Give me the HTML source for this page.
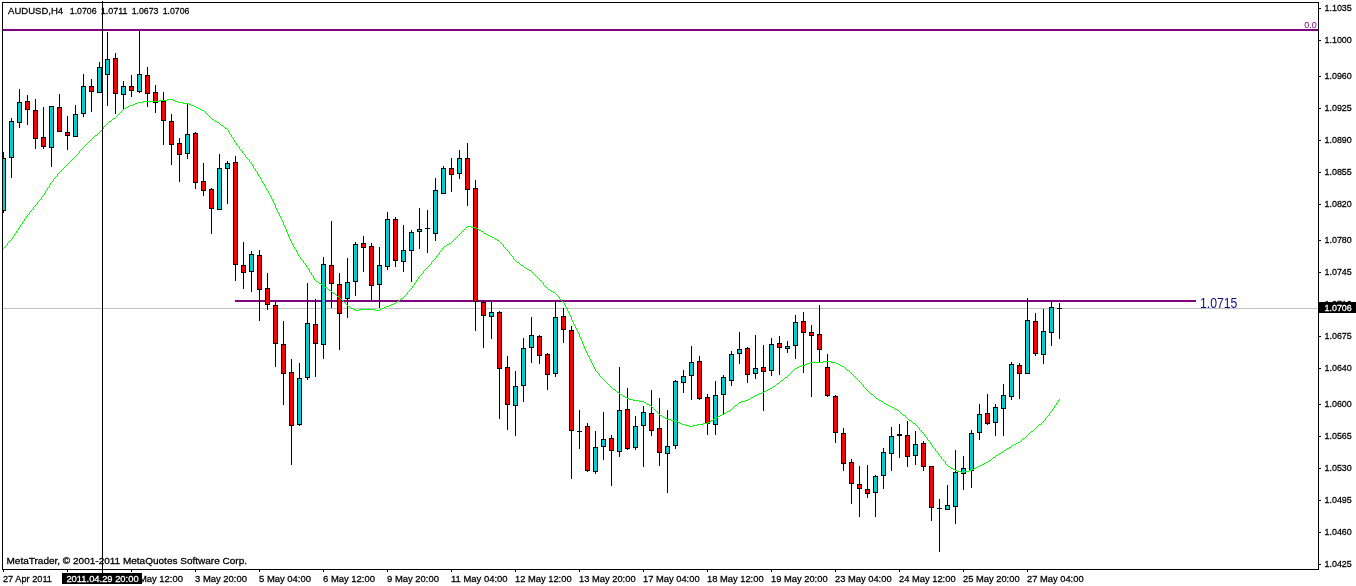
<!DOCTYPE html>
<html><head><meta charset="utf-8"><title>AUDUSD,H4</title>
<style>
html,body{margin:0;padding:0;background:#fff;}
body{width:1356px;height:586px;overflow:hidden;}
svg{display:block;}
.t{font-family:"Liberation Sans","DejaVu Sans",sans-serif;font-size:9.2px;fill:#000;stroke:#000;stroke-width:0.26px;}
.w{font-family:"Liberation Sans","DejaVu Sans",sans-serif;font-size:9.2px;fill:#fff;stroke:#fff;stroke-width:0.26px;}
</style></head><body>
<svg width="1356" height="586" viewBox="0 0 1356 586">
<defs><clipPath id="cp"><rect x="2" y="3" width="1316" height="566"/></clipPath></defs>
<rect x="0" y="0" width="1356" height="586" fill="#fff"/>
<g shape-rendering="crispEdges">
<!-- frame -->
<rect x="2" y="2" width="1317" height="1" fill="#000"/>
<rect x="2" y="2" width="1" height="568" fill="#000"/>
<rect x="2" y="569" width="1317" height="1" fill="#000"/>
<rect x="1318" y="2" width="1" height="568" fill="#000"/>
<!-- current price line -->
<rect x="3" y="308" width="1315" height="1" fill="#C0C0C0"/>
<!-- horizontal lines -->
<rect x="3" y="29" width="1315" height="2" fill="#800080"/>
<rect x="235" y="300" width="961" height="2" fill="#800080"/>
<!-- candles -->
<g clip-path="url(#cp)">
<rect x="3" y="152" width="1" height="61" fill="#000"/>
<rect x="1" y="158" width="5" height="53" fill="#000"/>
<rect x="2" y="159" width="3" height="51" fill="#00CED1"/>
<rect x="11" y="118" width="1" height="60" fill="#000"/>
<rect x="9" y="121" width="5" height="37" fill="#000"/>
<rect x="10" y="122" width="3" height="35" fill="#00CED1"/>
<rect x="19" y="89" width="1" height="39" fill="#000"/>
<rect x="17" y="102" width="5" height="21" fill="#000"/>
<rect x="18" y="103" width="3" height="19" fill="#00CED1"/>
<rect x="27" y="95" width="1" height="30" fill="#000"/>
<rect x="25" y="101" width="5" height="9" fill="#000"/>
<rect x="26" y="102" width="3" height="7" fill="#FF0000"/>
<rect x="35" y="99" width="1" height="50" fill="#000"/>
<rect x="33" y="110" width="5" height="29" fill="#000"/>
<rect x="34" y="111" width="3" height="27" fill="#FF0000"/>
<rect x="43" y="107" width="1" height="42" fill="#000"/>
<rect x="41" y="137" width="5" height="10" fill="#000"/>
<rect x="42" y="138" width="3" height="8" fill="#FF0000"/>
<rect x="51" y="106" width="1" height="61" fill="#000"/>
<rect x="49" y="106" width="5" height="42" fill="#000"/>
<rect x="50" y="107" width="3" height="40" fill="#00CED1"/>
<rect x="59" y="94" width="1" height="38" fill="#000"/>
<rect x="57" y="107" width="5" height="25" fill="#000"/>
<rect x="58" y="108" width="3" height="23" fill="#FF0000"/>
<rect x="67" y="116" width="1" height="34" fill="#000"/>
<rect x="65" y="132" width="5" height="4" fill="#000"/>
<rect x="66" y="133" width="3" height="2" fill="#FF0000"/>
<rect x="75" y="105" width="1" height="32" fill="#000"/>
<rect x="73" y="114" width="5" height="23" fill="#000"/>
<rect x="74" y="115" width="3" height="21" fill="#00CED1"/>
<rect x="83" y="74" width="1" height="43" fill="#000"/>
<rect x="81" y="86" width="5" height="28" fill="#000"/>
<rect x="82" y="87" width="3" height="26" fill="#00CED1"/>
<rect x="91" y="79" width="1" height="33" fill="#000"/>
<rect x="89" y="86" width="5" height="6" fill="#000"/>
<rect x="90" y="87" width="3" height="4" fill="#FF0000"/>
<rect x="99" y="62" width="1" height="31" fill="#000"/>
<rect x="97" y="67" width="5" height="26" fill="#000"/>
<rect x="98" y="68" width="3" height="24" fill="#00CED1"/>
<rect x="107" y="32" width="1" height="74" fill="#000"/>
<rect x="105" y="59" width="5" height="16" fill="#000"/>
<rect x="106" y="60" width="3" height="14" fill="#00CED1"/>
<rect x="115" y="53" width="1" height="61" fill="#000"/>
<rect x="113" y="58" width="5" height="36" fill="#000"/>
<rect x="114" y="59" width="3" height="34" fill="#FF0000"/>
<rect x="123" y="81" width="1" height="28" fill="#000"/>
<rect x="121" y="86" width="5" height="9" fill="#000"/>
<rect x="122" y="87" width="3" height="7" fill="#00CED1"/>
<rect x="131" y="75" width="1" height="22" fill="#000"/>
<rect x="129" y="86" width="5" height="5" fill="#000"/>
<rect x="130" y="87" width="3" height="3" fill="#FF0000"/>
<rect x="139" y="31" width="1" height="62" fill="#000"/>
<rect x="137" y="74" width="5" height="18" fill="#000"/>
<rect x="138" y="75" width="3" height="16" fill="#00CED1"/>
<rect x="147" y="67" width="1" height="40" fill="#000"/>
<rect x="145" y="75" width="5" height="19" fill="#000"/>
<rect x="146" y="76" width="3" height="17" fill="#FF0000"/>
<rect x="155" y="85" width="1" height="28" fill="#000"/>
<rect x="153" y="92" width="5" height="11" fill="#000"/>
<rect x="154" y="93" width="3" height="9" fill="#FF0000"/>
<rect x="163" y="92" width="1" height="53" fill="#000"/>
<rect x="161" y="101" width="5" height="20" fill="#000"/>
<rect x="162" y="102" width="3" height="18" fill="#FF0000"/>
<rect x="171" y="114" width="1" height="51" fill="#000"/>
<rect x="169" y="121" width="5" height="24" fill="#000"/>
<rect x="170" y="122" width="3" height="22" fill="#FF0000"/>
<rect x="179" y="138" width="1" height="44" fill="#000"/>
<rect x="177" y="143" width="5" height="12" fill="#000"/>
<rect x="178" y="144" width="3" height="10" fill="#FF0000"/>
<rect x="187" y="103" width="1" height="56" fill="#000"/>
<rect x="185" y="134" width="5" height="20" fill="#000"/>
<rect x="186" y="135" width="3" height="18" fill="#00CED1"/>
<rect x="195" y="132" width="1" height="57" fill="#000"/>
<rect x="193" y="133" width="5" height="50" fill="#000"/>
<rect x="194" y="134" width="3" height="48" fill="#FF0000"/>
<rect x="203" y="163" width="1" height="33" fill="#000"/>
<rect x="201" y="181" width="5" height="10" fill="#000"/>
<rect x="202" y="182" width="3" height="8" fill="#FF0000"/>
<rect x="211" y="188" width="1" height="46" fill="#000"/>
<rect x="209" y="189" width="5" height="20" fill="#000"/>
<rect x="210" y="190" width="3" height="18" fill="#FF0000"/>
<rect x="219" y="154" width="1" height="56" fill="#000"/>
<rect x="217" y="168" width="5" height="42" fill="#000"/>
<rect x="218" y="169" width="3" height="40" fill="#00CED1"/>
<rect x="227" y="161" width="1" height="43" fill="#000"/>
<rect x="225" y="163" width="5" height="6" fill="#000"/>
<rect x="226" y="164" width="3" height="4" fill="#00CED1"/>
<rect x="235" y="156" width="1" height="125" fill="#000"/>
<rect x="233" y="162" width="5" height="103" fill="#000"/>
<rect x="234" y="163" width="3" height="101" fill="#FF0000"/>
<rect x="243" y="242" width="1" height="47" fill="#000"/>
<rect x="241" y="265" width="5" height="8" fill="#000"/>
<rect x="242" y="266" width="3" height="6" fill="#FF0000"/>
<rect x="251" y="251" width="1" height="41" fill="#000"/>
<rect x="249" y="254" width="5" height="18" fill="#000"/>
<rect x="250" y="255" width="3" height="16" fill="#00CED1"/>
<rect x="259" y="250" width="1" height="71" fill="#000"/>
<rect x="257" y="255" width="5" height="35" fill="#000"/>
<rect x="258" y="256" width="3" height="33" fill="#FF0000"/>
<rect x="267" y="273" width="1" height="37" fill="#000"/>
<rect x="265" y="288" width="5" height="17" fill="#000"/>
<rect x="266" y="289" width="3" height="15" fill="#FF0000"/>
<rect x="275" y="301" width="1" height="66" fill="#000"/>
<rect x="273" y="305" width="5" height="39" fill="#000"/>
<rect x="274" y="306" width="3" height="37" fill="#FF0000"/>
<rect x="283" y="321" width="1" height="84" fill="#000"/>
<rect x="281" y="344" width="5" height="30" fill="#000"/>
<rect x="282" y="345" width="3" height="28" fill="#FF0000"/>
<rect x="291" y="359" width="1" height="106" fill="#000"/>
<rect x="289" y="372" width="5" height="54" fill="#000"/>
<rect x="290" y="373" width="3" height="52" fill="#FF0000"/>
<rect x="299" y="363" width="1" height="63" fill="#000"/>
<rect x="297" y="378" width="5" height="47" fill="#000"/>
<rect x="298" y="379" width="3" height="45" fill="#00CED1"/>
<rect x="307" y="283" width="1" height="97" fill="#000"/>
<rect x="305" y="323" width="5" height="55" fill="#000"/>
<rect x="306" y="324" width="3" height="53" fill="#00CED1"/>
<rect x="315" y="299" width="1" height="78" fill="#000"/>
<rect x="313" y="324" width="5" height="20" fill="#000"/>
<rect x="314" y="325" width="3" height="18" fill="#FF0000"/>
<rect x="323" y="257" width="1" height="102" fill="#000"/>
<rect x="321" y="264" width="5" height="81" fill="#000"/>
<rect x="322" y="265" width="3" height="79" fill="#00CED1"/>
<rect x="331" y="221" width="1" height="87" fill="#000"/>
<rect x="329" y="265" width="5" height="19" fill="#000"/>
<rect x="330" y="266" width="3" height="17" fill="#FF0000"/>
<rect x="339" y="273" width="1" height="77" fill="#000"/>
<rect x="337" y="284" width="5" height="30" fill="#000"/>
<rect x="338" y="285" width="3" height="28" fill="#FF0000"/>
<rect x="347" y="258" width="1" height="60" fill="#000"/>
<rect x="345" y="282" width="5" height="17" fill="#000"/>
<rect x="346" y="283" width="3" height="15" fill="#00CED1"/>
<rect x="355" y="242" width="1" height="54" fill="#000"/>
<rect x="353" y="244" width="5" height="38" fill="#000"/>
<rect x="354" y="245" width="3" height="36" fill="#00CED1"/>
<rect x="363" y="236" width="1" height="36" fill="#000"/>
<rect x="361" y="243" width="5" height="5" fill="#000"/>
<rect x="362" y="244" width="3" height="3" fill="#FF0000"/>
<rect x="371" y="243" width="1" height="58" fill="#000"/>
<rect x="369" y="246" width="5" height="40" fill="#000"/>
<rect x="370" y="247" width="3" height="38" fill="#FF0000"/>
<rect x="379" y="247" width="1" height="61" fill="#000"/>
<rect x="377" y="265" width="5" height="20" fill="#000"/>
<rect x="378" y="266" width="3" height="18" fill="#00CED1"/>
<rect x="387" y="212" width="1" height="58" fill="#000"/>
<rect x="385" y="219" width="5" height="48" fill="#000"/>
<rect x="386" y="220" width="3" height="46" fill="#00CED1"/>
<rect x="395" y="217" width="1" height="50" fill="#000"/>
<rect x="393" y="219" width="5" height="42" fill="#000"/>
<rect x="394" y="220" width="3" height="40" fill="#FF0000"/>
<rect x="403" y="225" width="1" height="47" fill="#000"/>
<rect x="401" y="250" width="5" height="12" fill="#000"/>
<rect x="402" y="251" width="3" height="10" fill="#00CED1"/>
<rect x="411" y="230" width="1" height="52" fill="#000"/>
<rect x="409" y="232" width="5" height="19" fill="#000"/>
<rect x="410" y="233" width="3" height="17" fill="#00CED1"/>
<rect x="419" y="208" width="1" height="41" fill="#000"/>
<rect x="417" y="229" width="5" height="3" fill="#000"/>
<rect x="418" y="230" width="3" height="1" fill="#00CED1"/>
<rect x="427" y="210" width="1" height="43" fill="#000"/>
<rect x="425" y="228" width="5" height="1" fill="#000"/>
<rect x="435" y="178" width="1" height="63" fill="#000"/>
<rect x="433" y="190" width="5" height="44" fill="#000"/>
<rect x="434" y="191" width="3" height="42" fill="#00CED1"/>
<rect x="443" y="166" width="1" height="28" fill="#000"/>
<rect x="441" y="168" width="5" height="26" fill="#000"/>
<rect x="442" y="169" width="3" height="24" fill="#00CED1"/>
<rect x="451" y="158" width="1" height="34" fill="#000"/>
<rect x="449" y="168" width="5" height="7" fill="#000"/>
<rect x="450" y="169" width="3" height="5" fill="#FF0000"/>
<rect x="459" y="150" width="1" height="29" fill="#000"/>
<rect x="457" y="158" width="5" height="16" fill="#000"/>
<rect x="458" y="159" width="3" height="14" fill="#00CED1"/>
<rect x="467" y="143" width="1" height="63" fill="#000"/>
<rect x="465" y="158" width="5" height="32" fill="#000"/>
<rect x="466" y="159" width="3" height="30" fill="#FF0000"/>
<rect x="475" y="180" width="1" height="151" fill="#000"/>
<rect x="473" y="188" width="5" height="114" fill="#000"/>
<rect x="474" y="189" width="3" height="112" fill="#FF0000"/>
<rect x="483" y="300" width="1" height="48" fill="#000"/>
<rect x="481" y="302" width="5" height="14" fill="#000"/>
<rect x="482" y="303" width="3" height="12" fill="#FF0000"/>
<rect x="491" y="302" width="1" height="37" fill="#000"/>
<rect x="489" y="312" width="5" height="5" fill="#000"/>
<rect x="490" y="313" width="3" height="3" fill="#00CED1"/>
<rect x="499" y="311" width="1" height="108" fill="#000"/>
<rect x="497" y="312" width="5" height="57" fill="#000"/>
<rect x="498" y="313" width="3" height="55" fill="#FF0000"/>
<rect x="507" y="356" width="1" height="74" fill="#000"/>
<rect x="505" y="367" width="5" height="38" fill="#000"/>
<rect x="506" y="368" width="3" height="36" fill="#FF0000"/>
<rect x="515" y="371" width="1" height="65" fill="#000"/>
<rect x="513" y="386" width="5" height="20" fill="#000"/>
<rect x="514" y="387" width="3" height="18" fill="#00CED1"/>
<rect x="523" y="338" width="1" height="64" fill="#000"/>
<rect x="521" y="348" width="5" height="38" fill="#000"/>
<rect x="522" y="349" width="3" height="36" fill="#00CED1"/>
<rect x="531" y="317" width="1" height="46" fill="#000"/>
<rect x="529" y="335" width="5" height="13" fill="#000"/>
<rect x="530" y="336" width="3" height="11" fill="#00CED1"/>
<rect x="539" y="335" width="1" height="29" fill="#000"/>
<rect x="537" y="336" width="5" height="20" fill="#000"/>
<rect x="538" y="337" width="3" height="18" fill="#FF0000"/>
<rect x="547" y="353" width="1" height="37" fill="#000"/>
<rect x="545" y="354" width="5" height="21" fill="#000"/>
<rect x="546" y="355" width="3" height="19" fill="#FF0000"/>
<rect x="555" y="300" width="1" height="77" fill="#000"/>
<rect x="553" y="317" width="5" height="57" fill="#000"/>
<rect x="554" y="318" width="3" height="55" fill="#00CED1"/>
<rect x="563" y="308" width="1" height="35" fill="#000"/>
<rect x="561" y="316" width="5" height="14" fill="#000"/>
<rect x="562" y="317" width="3" height="12" fill="#FF0000"/>
<rect x="571" y="326" width="1" height="153" fill="#000"/>
<rect x="569" y="330" width="5" height="101" fill="#000"/>
<rect x="570" y="331" width="3" height="99" fill="#FF0000"/>
<rect x="579" y="410" width="1" height="39" fill="#000"/>
<rect x="577" y="431" width="5" height="1" fill="#000"/>
<rect x="587" y="423" width="1" height="49" fill="#000"/>
<rect x="585" y="426" width="5" height="45" fill="#000"/>
<rect x="586" y="427" width="3" height="43" fill="#FF0000"/>
<rect x="595" y="431" width="1" height="43" fill="#000"/>
<rect x="593" y="447" width="5" height="25" fill="#000"/>
<rect x="594" y="448" width="3" height="23" fill="#00CED1"/>
<rect x="603" y="412" width="1" height="48" fill="#000"/>
<rect x="601" y="439" width="5" height="8" fill="#000"/>
<rect x="602" y="440" width="3" height="6" fill="#00CED1"/>
<rect x="611" y="435" width="1" height="51" fill="#000"/>
<rect x="609" y="438" width="5" height="13" fill="#000"/>
<rect x="610" y="439" width="3" height="11" fill="#FF0000"/>
<rect x="619" y="367" width="1" height="90" fill="#000"/>
<rect x="617" y="410" width="5" height="42" fill="#000"/>
<rect x="618" y="411" width="3" height="40" fill="#00CED1"/>
<rect x="627" y="388" width="1" height="62" fill="#000"/>
<rect x="625" y="409" width="5" height="40" fill="#000"/>
<rect x="626" y="410" width="3" height="38" fill="#FF0000"/>
<rect x="635" y="416" width="1" height="34" fill="#000"/>
<rect x="633" y="426" width="5" height="22" fill="#000"/>
<rect x="634" y="427" width="3" height="20" fill="#00CED1"/>
<rect x="643" y="406" width="1" height="61" fill="#000"/>
<rect x="641" y="412" width="5" height="14" fill="#000"/>
<rect x="642" y="413" width="3" height="12" fill="#00CED1"/>
<rect x="651" y="390" width="1" height="46" fill="#000"/>
<rect x="649" y="413" width="5" height="18" fill="#000"/>
<rect x="650" y="414" width="3" height="16" fill="#FF0000"/>
<rect x="659" y="398" width="1" height="68" fill="#000"/>
<rect x="657" y="428" width="5" height="25" fill="#000"/>
<rect x="658" y="429" width="3" height="23" fill="#FF0000"/>
<rect x="667" y="410" width="1" height="83" fill="#000"/>
<rect x="665" y="446" width="5" height="8" fill="#000"/>
<rect x="666" y="447" width="3" height="6" fill="#00CED1"/>
<rect x="675" y="380" width="1" height="69" fill="#000"/>
<rect x="673" y="381" width="5" height="65" fill="#000"/>
<rect x="674" y="382" width="3" height="63" fill="#00CED1"/>
<rect x="683" y="370" width="1" height="23" fill="#000"/>
<rect x="681" y="376" width="5" height="7" fill="#000"/>
<rect x="682" y="377" width="3" height="5" fill="#00CED1"/>
<rect x="691" y="346" width="1" height="54" fill="#000"/>
<rect x="689" y="362" width="5" height="14" fill="#000"/>
<rect x="690" y="363" width="3" height="12" fill="#00CED1"/>
<rect x="699" y="356" width="1" height="44" fill="#000"/>
<rect x="697" y="361" width="5" height="38" fill="#000"/>
<rect x="698" y="362" width="3" height="36" fill="#FF0000"/>
<rect x="707" y="394" width="1" height="41" fill="#000"/>
<rect x="705" y="397" width="5" height="27" fill="#000"/>
<rect x="706" y="398" width="3" height="25" fill="#FF0000"/>
<rect x="715" y="381" width="1" height="54" fill="#000"/>
<rect x="713" y="395" width="5" height="30" fill="#000"/>
<rect x="714" y="396" width="3" height="28" fill="#00CED1"/>
<rect x="723" y="375" width="1" height="39" fill="#000"/>
<rect x="721" y="377" width="5" height="18" fill="#000"/>
<rect x="722" y="378" width="3" height="16" fill="#00CED1"/>
<rect x="731" y="351" width="1" height="35" fill="#000"/>
<rect x="729" y="354" width="5" height="27" fill="#000"/>
<rect x="730" y="355" width="3" height="25" fill="#00CED1"/>
<rect x="739" y="332" width="1" height="32" fill="#000"/>
<rect x="737" y="349" width="5" height="5" fill="#000"/>
<rect x="738" y="350" width="3" height="3" fill="#00CED1"/>
<rect x="747" y="347" width="1" height="36" fill="#000"/>
<rect x="745" y="348" width="5" height="27" fill="#000"/>
<rect x="746" y="349" width="3" height="25" fill="#FF0000"/>
<rect x="755" y="335" width="1" height="44" fill="#000"/>
<rect x="753" y="368" width="5" height="6" fill="#000"/>
<rect x="754" y="369" width="3" height="4" fill="#00CED1"/>
<rect x="763" y="345" width="1" height="66" fill="#000"/>
<rect x="761" y="367" width="5" height="5" fill="#000"/>
<rect x="762" y="368" width="3" height="3" fill="#FF0000"/>
<rect x="771" y="338" width="1" height="38" fill="#000"/>
<rect x="769" y="344" width="5" height="27" fill="#000"/>
<rect x="770" y="345" width="3" height="25" fill="#00CED1"/>
<rect x="779" y="336" width="1" height="39" fill="#000"/>
<rect x="777" y="343" width="5" height="5" fill="#000"/>
<rect x="778" y="344" width="3" height="3" fill="#FF0000"/>
<rect x="787" y="341" width="1" height="12" fill="#000"/>
<rect x="785" y="346" width="5" height="3" fill="#000"/>
<rect x="786" y="347" width="3" height="1" fill="#00CED1"/>
<rect x="795" y="315" width="1" height="44" fill="#000"/>
<rect x="793" y="322" width="5" height="24" fill="#000"/>
<rect x="794" y="323" width="3" height="22" fill="#00CED1"/>
<rect x="803" y="312" width="1" height="61" fill="#000"/>
<rect x="801" y="321" width="5" height="12" fill="#000"/>
<rect x="802" y="322" width="3" height="10" fill="#FF0000"/>
<rect x="811" y="325" width="1" height="72" fill="#000"/>
<rect x="809" y="332" width="5" height="4" fill="#000"/>
<rect x="810" y="333" width="3" height="2" fill="#FF0000"/>
<rect x="819" y="305" width="1" height="57" fill="#000"/>
<rect x="817" y="334" width="5" height="16" fill="#000"/>
<rect x="818" y="335" width="3" height="14" fill="#FF0000"/>
<rect x="827" y="354" width="1" height="43" fill="#000"/>
<rect x="825" y="367" width="5" height="29" fill="#000"/>
<rect x="826" y="368" width="3" height="27" fill="#FF0000"/>
<rect x="835" y="395" width="1" height="48" fill="#000"/>
<rect x="833" y="396" width="5" height="37" fill="#000"/>
<rect x="834" y="397" width="3" height="35" fill="#FF0000"/>
<rect x="843" y="428" width="1" height="43" fill="#000"/>
<rect x="841" y="433" width="5" height="31" fill="#000"/>
<rect x="842" y="434" width="3" height="29" fill="#FF0000"/>
<rect x="851" y="459" width="1" height="45" fill="#000"/>
<rect x="849" y="462" width="5" height="22" fill="#000"/>
<rect x="850" y="463" width="3" height="20" fill="#FF0000"/>
<rect x="859" y="466" width="1" height="51" fill="#000"/>
<rect x="857" y="484" width="5" height="5" fill="#000"/>
<rect x="858" y="485" width="3" height="3" fill="#FF0000"/>
<rect x="867" y="465" width="1" height="33" fill="#000"/>
<rect x="865" y="489" width="5" height="5" fill="#000"/>
<rect x="866" y="490" width="3" height="3" fill="#FF0000"/>
<rect x="875" y="475" width="1" height="42" fill="#000"/>
<rect x="873" y="476" width="5" height="17" fill="#000"/>
<rect x="874" y="477" width="3" height="15" fill="#00CED1"/>
<rect x="883" y="448" width="1" height="41" fill="#000"/>
<rect x="881" y="452" width="5" height="24" fill="#000"/>
<rect x="882" y="453" width="3" height="22" fill="#00CED1"/>
<rect x="891" y="427" width="1" height="44" fill="#000"/>
<rect x="889" y="436" width="5" height="18" fill="#000"/>
<rect x="890" y="437" width="3" height="16" fill="#00CED1"/>
<rect x="899" y="424" width="1" height="34" fill="#000"/>
<rect x="897" y="434" width="5" height="2" fill="#000"/>
<rect x="907" y="421" width="1" height="46" fill="#000"/>
<rect x="905" y="435" width="5" height="22" fill="#000"/>
<rect x="906" y="436" width="3" height="20" fill="#FF0000"/>
<rect x="915" y="431" width="1" height="34" fill="#000"/>
<rect x="913" y="444" width="5" height="12" fill="#000"/>
<rect x="914" y="445" width="3" height="10" fill="#00CED1"/>
<rect x="923" y="441" width="1" height="30" fill="#000"/>
<rect x="921" y="443" width="5" height="24" fill="#000"/>
<rect x="922" y="444" width="3" height="22" fill="#FF0000"/>
<rect x="931" y="466" width="1" height="55" fill="#000"/>
<rect x="929" y="466" width="5" height="42" fill="#000"/>
<rect x="930" y="467" width="3" height="40" fill="#FF0000"/>
<rect x="939" y="499" width="1" height="53" fill="#000"/>
<rect x="937" y="508" width="5" height="1" fill="#000"/>
<rect x="947" y="485" width="1" height="25" fill="#000"/>
<rect x="945" y="505" width="5" height="5" fill="#000"/>
<rect x="946" y="506" width="3" height="3" fill="#00CED1"/>
<rect x="955" y="450" width="1" height="74" fill="#000"/>
<rect x="953" y="472" width="5" height="35" fill="#000"/>
<rect x="954" y="473" width="3" height="33" fill="#00CED1"/>
<rect x="963" y="456" width="1" height="34" fill="#000"/>
<rect x="961" y="468" width="5" height="6" fill="#000"/>
<rect x="962" y="469" width="3" height="4" fill="#00CED1"/>
<rect x="971" y="430" width="1" height="58" fill="#000"/>
<rect x="969" y="433" width="5" height="38" fill="#000"/>
<rect x="970" y="434" width="3" height="36" fill="#00CED1"/>
<rect x="979" y="404" width="1" height="36" fill="#000"/>
<rect x="977" y="414" width="5" height="19" fill="#000"/>
<rect x="978" y="415" width="3" height="17" fill="#00CED1"/>
<rect x="987" y="394" width="1" height="31" fill="#000"/>
<rect x="985" y="413" width="5" height="11" fill="#000"/>
<rect x="986" y="414" width="3" height="9" fill="#FF0000"/>
<rect x="995" y="404" width="1" height="32" fill="#000"/>
<rect x="993" y="407" width="5" height="16" fill="#000"/>
<rect x="994" y="408" width="3" height="14" fill="#00CED1"/>
<rect x="1003" y="384" width="1" height="52" fill="#000"/>
<rect x="1001" y="395" width="5" height="14" fill="#000"/>
<rect x="1002" y="396" width="3" height="12" fill="#00CED1"/>
<rect x="1011" y="362" width="1" height="38" fill="#000"/>
<rect x="1009" y="364" width="5" height="33" fill="#000"/>
<rect x="1010" y="365" width="3" height="31" fill="#00CED1"/>
<rect x="1019" y="363" width="1" height="36" fill="#000"/>
<rect x="1017" y="365" width="5" height="9" fill="#000"/>
<rect x="1018" y="366" width="3" height="7" fill="#FF0000"/>
<rect x="1027" y="298" width="1" height="76" fill="#000"/>
<rect x="1025" y="320" width="5" height="54" fill="#000"/>
<rect x="1026" y="321" width="3" height="52" fill="#00CED1"/>
<rect x="1035" y="313" width="1" height="43" fill="#000"/>
<rect x="1033" y="321" width="5" height="33" fill="#000"/>
<rect x="1034" y="322" width="3" height="31" fill="#FF0000"/>
<rect x="1043" y="309" width="1" height="55" fill="#000"/>
<rect x="1041" y="331" width="5" height="24" fill="#000"/>
<rect x="1042" y="332" width="3" height="22" fill="#00CED1"/>
<rect x="1051" y="300" width="1" height="46" fill="#000"/>
<rect x="1049" y="307" width="5" height="26" fill="#000"/>
<rect x="1050" y="308" width="3" height="24" fill="#00CED1"/>
<rect x="1059" y="303" width="1" height="36" fill="#000"/>
<rect x="1057" y="308" width="5" height="1" fill="#000"/>
</g>
<rect x="2" y="2" width="1" height="568" fill="#000"/>
<!-- MA -->
<path d="M167 99h6v1h-6zM159 100h8v1h-8zM173 100h2v1h-2zM143 101h16v1h-16zM175 101h3v1h-3zM138 102h5v1h-5zM178 102h5v1h-5zM135 103h3v1h-3zM183 103h6v1h-6zM133 104h2v1h-2zM189 104h2v1h-2zM130 105h3v1h-3zM191 105h3v1h-3zM128 106h2v1h-2zM194 106h2v1h-2zM126 107h2v1h-2zM196 107h2v1h-2zM124 108h2v1h-2zM198 108h2v1h-2zM123 109h1v1h-1zM200 109h2v1h-2zM122 110h1v1h-1zM202 110h2v1h-2zM121 111h1v1h-1zM204 111h1v1h-1zM120 112h1v1h-1zM205 112h1v1h-1zM119 113h1v1h-1zM206 113h1v1h-1zM118 114h1v1h-1zM207 114h1v1h-1zM117 115h1v1h-1zM208 115h1v1h-1zM116 116h1v1h-1zM209 116h1v1h-1zM115 117h1v1h-1zM210 117h1v1h-1zM113 118h2v1h-2zM211 118h1v1h-1zM112 119h1v1h-1zM212 119h2v1h-2zM111 120h1v1h-1zM214 120h1v1h-1zM109 121h2v1h-2zM215 121h2v1h-2zM108 122h1v1h-1zM217 122h2v1h-2zM107 123h1v1h-1zM219 123h1v1h-1zM106 124h1v1h-1zM220 124h1v1h-1zM105 125h1v1h-1zM221 125h2v1h-2zM104 126h1v1h-1zM223 126h1v1h-1zM224 127h1v1h-1zM103 127h1v2h-1zM225 128h2v1h-2zM102 129h1v1h-1zM227 129h1v1h-1zM101 130h1v1h-1zM228 130h1v2h-1zM100 131h1v1h-1zM99 132h1v1h-1zM229 132h1v2h-1zM98 133h1v1h-1zM97 134h1v1h-1zM230 134h1v1h-1zM95 135h2v1h-2zM231 135h1v2h-1zM94 136h1v1h-1zM93 137h1v1h-1zM232 137h1v1h-1zM92 138h1v1h-1zM233 138h1v2h-1zM91 139h1v1h-1zM90 140h1v1h-1zM234 140h1v2h-1zM89 141h1v1h-1zM88 142h1v1h-1zM235 142h1v1h-1zM87 143h1v1h-1zM236 143h1v2h-1zM86 144h1v1h-1zM85 145h1v1h-1zM237 145h1v1h-1zM84 146h1v1h-1zM238 146h1v1h-1zM83 147h1v1h-1zM239 147h1v2h-1zM82 148h1v1h-1zM81 149h1v1h-1zM240 149h1v1h-1zM80 150h1v1h-1zM241 150h1v1h-1zM79 151h1v2h-1zM242 151h1v2h-1zM78 153h1v1h-1zM243 153h1v1h-1zM77 154h1v1h-1zM244 154h1v1h-1zM76 155h1v1h-1zM245 155h1v2h-1zM75 156h1v1h-1zM74 157h1v1h-1zM246 157h1v1h-1zM73 158h1v1h-1zM247 158h1v1h-1zM72 159h1v1h-1zM248 159h1v1h-1zM71 160h1v1h-1zM249 160h1v2h-1zM70 161h1v1h-1zM69 162h1v1h-1zM250 162h1v1h-1zM68 163h1v1h-1zM251 163h1v1h-1zM67 164h1v1h-1zM252 164h1v2h-1zM66 165h1v1h-1zM65 166h1v1h-1zM253 166h1v2h-1zM64 167h1v1h-1zM63 168h1v1h-1zM254 168h1v1h-1zM62 169h1v1h-1zM255 169h1v2h-1zM61 170h1v1h-1zM60 171h1v1h-1zM256 171h1v1h-1zM59 172h1v1h-1zM257 172h1v2h-1zM58 173h1v1h-1zM57 174h1v2h-1zM258 174h1v2h-1zM56 176h1v1h-1zM259 176h1v1h-1zM55 177h1v1h-1zM260 177h1v2h-1zM54 178h1v1h-1zM53 179h1v2h-1zM261 179h1v2h-1zM52 181h1v1h-1zM262 181h1v2h-1zM51 182h1v1h-1zM263 183h1v1h-1zM50 183h1v2h-1zM264 184h1v2h-1zM49 185h1v2h-1zM265 186h1v2h-1zM48 187h1v1h-1zM47 188h1v2h-1zM266 188h1v2h-1zM46 190h1v1h-1zM267 190h1v1h-1zM45 191h1v2h-1zM268 191h1v2h-1zM44 193h1v2h-1zM269 193h1v2h-1zM43 195h1v1h-1zM270 195h1v2h-1zM42 196h1v1h-1zM41 197h1v2h-1zM271 197h1v2h-1zM40 199h1v1h-1zM272 199h1v2h-1zM39 200h1v1h-1zM38 201h1v1h-1zM273 201h1v2h-1zM37 202h1v2h-1zM274 203h1v2h-1zM36 204h1v1h-1zM35 205h1v1h-1zM275 205h1v3h-1zM34 206h1v1h-1zM33 207h1v2h-1zM276 208h1v2h-1zM32 209h1v1h-1zM31 210h1v1h-1zM277 210h1v2h-1zM30 211h1v1h-1zM29 212h1v2h-1zM278 212h1v2h-1zM28 214h1v1h-1zM279 214h1v2h-1zM27 215h1v1h-1zM26 216h1v2h-1zM280 216h1v2h-1zM25 218h1v1h-1zM281 218h1v2h-1zM24 219h1v2h-1zM282 220h1v2h-1zM23 221h1v1h-1zM22 222h1v2h-1zM283 222h1v3h-1zM21 224h1v1h-1zM20 225h1v2h-1zM284 225h1v2h-1zM467 226h4v1h-4zM19 227h1v1h-1zM466 227h1v1h-1zM471 227h5v1h-5zM285 227h1v2h-1zM465 228h1v1h-1zM476 228h2v1h-2zM18 228h1v2h-1zM464 229h1v1h-1zM478 229h1v1h-1zM286 229h1v3h-1zM17 230h1v1h-1zM463 230h1v1h-1zM479 230h2v1h-2zM462 231h1v1h-1zM481 231h2v1h-2zM16 231h1v2h-1zM461 232h1v1h-1zM483 232h1v1h-1zM287 232h1v2h-1zM15 233h1v1h-1zM460 233h1v1h-1zM484 233h2v1h-2zM459 234h1v1h-1zM486 234h2v1h-2zM14 234h1v2h-1zM288 234h1v3h-1zM458 235h1v1h-1zM488 235h2v1h-2zM13 236h1v1h-1zM457 236h1v1h-1zM490 236h2v1h-2zM456 237h1v1h-1zM492 237h2v1h-2zM12 237h1v2h-1zM289 237h1v2h-1zM455 238h1v1h-1zM494 238h1v1h-1zM11 239h1v1h-1zM454 239h1v1h-1zM495 239h2v1h-2zM290 239h1v2h-1zM10 240h1v1h-1zM453 240h1v1h-1zM497 240h2v1h-2zM9 241h1v1h-1zM452 241h1v1h-1zM499 241h1v1h-1zM291 241h1v2h-1zM8 242h1v1h-1zM451 242h1v1h-1zM500 242h1v1h-1zM449 243h2v1h-2zM501 243h1v1h-1zM7 243h1v2h-1zM292 243h1v2h-1zM447 244h2v1h-2zM502 244h1v1h-1zM6 245h1v1h-1zM446 245h1v1h-1zM293 245h1v2h-1zM503 245h1v2h-1zM5 246h1v1h-1zM444 246h2v1h-2zM4 247h1v1h-1zM443 247h1v1h-1zM504 247h1v1h-1zM294 247h1v2h-1zM3 248h1v1h-1zM505 248h1v1h-1zM442 248h1v2h-1zM295 249h1v1h-1zM506 249h1v1h-1zM441 250h1v1h-1zM507 250h1v1h-1zM296 250h1v2h-1zM440 251h1v1h-1zM508 251h1v1h-1zM297 252h1v2h-1zM439 252h1v2h-1zM509 252h1v2h-1zM438 254h1v1h-1zM510 254h1v1h-1zM298 254h1v2h-1zM437 255h1v1h-1zM511 255h1v1h-1zM299 256h1v1h-1zM512 256h1v1h-1zM436 256h1v2h-1zM300 257h1v2h-1zM513 257h1v2h-1zM435 258h1v1h-1zM301 259h1v1h-1zM434 259h1v1h-1zM514 259h1v1h-1zM302 260h1v1h-1zM433 260h1v1h-1zM515 260h1v1h-1zM432 261h1v1h-1zM516 261h1v1h-1zM303 261h1v2h-1zM517 262h2v1h-2zM431 262h1v2h-1zM304 263h1v1h-1zM519 263h1v1h-1zM305 264h1v1h-1zM430 264h1v1h-1zM520 264h1v1h-1zM429 265h1v1h-1zM521 265h2v1h-2zM306 265h1v2h-1zM428 266h1v1h-1zM523 266h1v1h-1zM307 267h1v1h-1zM427 267h1v1h-1zM524 267h2v1h-2zM426 268h1v1h-1zM526 268h1v1h-1zM308 268h1v2h-1zM425 269h1v1h-1zM527 269h2v1h-2zM424 270h1v1h-1zM529 270h2v1h-2zM309 270h1v2h-1zM531 271h1v1h-1zM423 271h1v2h-1zM310 272h1v1h-1zM532 272h1v1h-1zM422 273h1v1h-1zM533 273h1v1h-1zM311 273h1v2h-1zM421 274h1v1h-1zM534 274h1v1h-1zM312 275h1v1h-1zM420 275h1v1h-1zM535 275h1v1h-1zM419 276h1v1h-1zM536 276h1v1h-1zM313 276h1v2h-1zM537 277h1v1h-1zM418 277h1v2h-1zM538 278h1v1h-1zM314 278h1v2h-1zM417 279h1v1h-1zM539 279h1v1h-1zM315 280h1v1h-1zM540 280h1v1h-1zM416 280h1v2h-1zM316 281h2v1h-2zM541 281h1v1h-1zM318 282h1v1h-1zM415 282h1v1h-1zM542 282h1v1h-1zM319 283h2v1h-2zM414 283h1v2h-1zM543 283h1v2h-1zM321 284h2v1h-2zM323 285h1v1h-1zM413 285h1v1h-1zM544 285h1v1h-1zM324 286h1v1h-1zM545 286h1v1h-1zM412 286h1v2h-1zM325 287h2v1h-2zM546 287h1v1h-1zM327 288h1v1h-1zM411 288h1v1h-1zM547 288h1v1h-1zM328 289h1v1h-1zM410 289h1v1h-1zM548 289h2v1h-2zM329 290h2v1h-2zM409 290h1v1h-1zM550 290h1v1h-1zM331 291h1v1h-1zM408 291h1v1h-1zM551 291h2v1h-2zM332 292h1v1h-1zM553 292h2v1h-2zM407 292h1v2h-1zM333 293h2v1h-2zM555 293h1v1h-1zM335 294h1v1h-1zM406 294h1v1h-1zM556 294h1v1h-1zM336 295h1v1h-1zM405 295h1v1h-1zM557 295h1v1h-1zM337 296h2v1h-2zM404 296h1v1h-1zM558 296h1v1h-1zM339 297h1v1h-1zM403 297h1v1h-1zM559 297h1v2h-1zM340 298h1v1h-1zM401 298h2v1h-2zM341 299h1v1h-1zM400 299h1v1h-1zM560 299h1v1h-1zM342 300h1v1h-1zM399 300h1v1h-1zM561 300h1v1h-1zM343 301h1v1h-1zM397 301h2v1h-2zM562 301h1v1h-1zM344 302h1v1h-1zM396 302h1v1h-1zM563 302h1v1h-1zM345 303h1v1h-1zM394 303h2v1h-2zM564 303h1v2h-1zM346 304h1v1h-1zM391 304h3v1h-3zM347 305h1v1h-1zM389 305h2v1h-2zM565 305h1v2h-1zM348 306h2v1h-2zM386 306h3v1h-3zM350 307h1v1h-1zM384 307h2v1h-2zM566 307h1v2h-1zM351 308h2v1h-2zM382 308h2v1h-2zM353 309h2v1h-2zM359 309h16v1h-16zM380 309h2v1h-2zM567 309h1v2h-1zM355 310h4v1h-4zM375 310h5v1h-5zM568 311h1v2h-1zM569 313h1v2h-1zM570 315h1v2h-1zM571 317h1v3h-1zM572 320h1v2h-1zM573 322h1v2h-1zM574 324h1v2h-1zM575 326h1v2h-1zM576 328h1v2h-1zM577 330h1v2h-1zM578 332h1v2h-1zM579 334h1v3h-1zM580 337h1v2h-1zM581 339h1v2h-1zM582 341h1v3h-1zM583 344h1v2h-1zM584 346h1v3h-1zM585 349h1v2h-1zM586 351h1v2h-1zM587 353h1v2h-1zM588 355h1v2h-1zM589 357h1v2h-1zM590 359h1v2h-1zM823 361h8v1h-8zM591 361h1v2h-1zM810 362h13v1h-13zM831 362h5v1h-5zM807 363h3v1h-3zM836 363h2v1h-2zM592 363h1v2h-1zM805 364h2v1h-2zM838 364h2v1h-2zM802 365h3v1h-3zM840 365h2v1h-2zM593 365h1v2h-1zM799 366h3v1h-3zM842 366h2v1h-2zM797 367h2v1h-2zM844 367h1v1h-1zM594 367h1v2h-1zM795 368h2v1h-2zM845 368h1v1h-1zM794 369h1v1h-1zM846 369h1v1h-1zM595 369h1v2h-1zM793 370h1v1h-1zM847 370h2v1h-2zM596 371h1v1h-1zM792 371h1v1h-1zM849 371h1v1h-1zM597 372h1v1h-1zM791 372h1v1h-1zM850 372h1v1h-1zM598 373h1v1h-1zM790 373h1v1h-1zM851 373h1v1h-1zM789 374h1v1h-1zM852 374h1v1h-1zM599 374h1v2h-1zM788 375h1v1h-1zM853 375h1v1h-1zM600 376h1v1h-1zM787 376h1v1h-1zM854 376h1v1h-1zM601 377h1v1h-1zM785 377h2v1h-2zM855 377h1v1h-1zM602 378h1v1h-1zM784 378h1v1h-1zM856 378h1v1h-1zM603 379h1v1h-1zM783 379h1v1h-1zM857 379h1v1h-1zM604 380h1v1h-1zM781 380h2v1h-2zM858 380h1v1h-1zM605 381h1v1h-1zM780 381h1v1h-1zM859 381h1v1h-1zM606 382h1v1h-1zM779 382h1v1h-1zM860 382h1v1h-1zM607 383h1v1h-1zM777 383h2v1h-2zM861 383h1v1h-1zM608 384h1v1h-1zM776 384h1v1h-1zM862 384h1v1h-1zM609 385h1v1h-1zM775 385h1v1h-1zM863 385h1v2h-1zM610 386h1v1h-1zM773 386h2v1h-2zM611 387h1v1h-1zM772 387h1v1h-1zM864 387h1v1h-1zM612 388h1v1h-1zM770 388h2v1h-2zM865 388h1v1h-1zM613 389h2v1h-2zM768 389h2v1h-2zM866 389h1v1h-1zM615 390h1v1h-1zM766 390h2v1h-2zM867 390h1v1h-1zM616 391h1v1h-1zM764 391h2v1h-2zM868 391h1v1h-1zM617 392h2v1h-2zM762 392h2v1h-2zM869 392h1v1h-1zM619 393h1v1h-1zM759 393h3v1h-3zM870 393h1v1h-1zM620 394h2v1h-2zM757 394h2v1h-2zM871 394h2v1h-2zM622 395h1v1h-1zM755 395h2v1h-2zM873 395h1v1h-1zM623 396h2v1h-2zM753 396h2v1h-2zM874 396h1v1h-1zM625 397h2v1h-2zM751 397h2v1h-2zM875 397h1v1h-1zM627 398h2v1h-2zM750 398h1v1h-1zM876 398h2v1h-2zM629 399h4v1h-4zM748 399h2v1h-2zM878 399h1v1h-1zM1059 399h1v1h-1zM633 400h6v1h-6zM745 400h3v1h-3zM879 400h2v1h-2zM1058 400h1v2h-1zM639 401h5v1h-5zM741 401h4v1h-4zM881 401h2v1h-2zM644 402h2v1h-2zM739 402h2v1h-2zM883 402h1v1h-1zM1057 402h1v1h-1zM646 403h1v1h-1zM738 403h1v1h-1zM884 403h2v1h-2zM1056 403h1v2h-1zM647 404h2v1h-2zM737 404h1v1h-1zM886 404h2v1h-2zM649 405h2v1h-2zM735 405h2v1h-2zM888 405h2v1h-2zM1055 405h1v1h-1zM651 406h1v1h-1zM734 406h1v1h-1zM890 406h2v1h-2zM1054 406h1v2h-1zM652 407h1v1h-1zM733 407h1v1h-1zM892 407h2v1h-2zM653 408h1v1h-1zM732 408h1v1h-1zM894 408h1v1h-1zM1053 408h1v1h-1zM654 409h1v1h-1zM731 409h1v1h-1zM895 409h2v1h-2zM1052 409h1v2h-1zM655 410h1v1h-1zM729 410h2v1h-2zM897 410h2v1h-2zM656 411h1v1h-1zM727 411h2v1h-2zM899 411h1v1h-1zM1051 411h1v1h-1zM657 412h1v1h-1zM726 412h1v1h-1zM900 412h1v1h-1zM1050 412h1v1h-1zM658 413h1v1h-1zM724 413h2v1h-2zM901 413h1v1h-1zM1049 413h1v2h-1zM659 414h1v1h-1zM722 414h2v1h-2zM902 414h1v1h-1zM660 415h2v1h-2zM720 415h2v1h-2zM903 415h2v1h-2zM1048 415h1v1h-1zM662 416h1v1h-1zM718 416h2v1h-2zM905 416h1v1h-1zM1047 416h1v1h-1zM663 417h2v1h-2zM716 417h2v1h-2zM906 417h1v1h-1zM1046 417h1v1h-1zM665 418h2v1h-2zM715 418h1v1h-1zM907 418h1v1h-1zM1045 418h1v2h-1zM667 419h4v1h-4zM713 419h2v1h-2zM908 419h1v1h-1zM671 420h5v1h-5zM711 420h2v1h-2zM909 420h2v1h-2zM1044 420h1v1h-1zM676 421h2v1h-2zM710 421h1v1h-1zM911 421h1v1h-1zM1043 421h1v1h-1zM678 422h2v1h-2zM708 422h2v1h-2zM912 422h1v1h-1zM1042 422h1v1h-1zM680 423h2v1h-2zM703 423h5v1h-5zM913 423h2v1h-2zM1041 423h1v1h-1zM682 424h3v1h-3zM697 424h6v1h-6zM915 424h1v1h-1zM1039 424h2v1h-2zM685 425h4v1h-4zM693 425h4v1h-4zM916 425h1v1h-1zM1038 425h1v1h-1zM689 426h4v1h-4zM917 426h1v1h-1zM1037 426h1v1h-1zM918 427h1v1h-1zM1036 427h1v1h-1zM1035 428h1v1h-1zM919 428h1v2h-1zM1034 429h1v1h-1zM920 430h1v1h-1zM1033 430h1v1h-1zM921 431h1v1h-1zM1031 431h2v1h-2zM922 432h1v1h-1zM1030 432h1v1h-1zM923 433h1v1h-1zM1029 433h1v1h-1zM1028 434h1v1h-1zM924 434h1v2h-1zM1027 435h1v1h-1zM925 436h1v1h-1zM1026 436h1v1h-1zM926 437h1v1h-1zM1025 437h1v1h-1zM1023 438h2v1h-2zM927 438h1v2h-1zM1022 439h1v1h-1zM928 440h1v1h-1zM1021 440h1v1h-1zM929 441h1v1h-1zM1020 441h1v1h-1zM1018 442h2v1h-2zM930 442h1v2h-1zM1016 443h2v1h-2zM931 444h1v1h-1zM1014 444h2v1h-2zM1012 445h2v1h-2zM932 445h1v2h-1zM1011 446h1v1h-1zM933 447h1v1h-1zM1009 447h2v1h-2zM934 448h1v1h-1zM1007 448h2v1h-2zM1006 449h1v1h-1zM935 449h1v2h-1zM1004 450h2v1h-2zM936 451h1v1h-1zM1003 451h1v1h-1zM937 452h1v1h-1zM1001 452h2v1h-2zM999 453h2v1h-2zM938 453h1v2h-1zM998 454h1v1h-1zM939 455h1v1h-1zM996 455h2v1h-2zM940 456h1v1h-1zM995 456h1v1h-1zM993 457h2v1h-2zM941 457h1v2h-1zM992 458h1v1h-1zM942 459h1v1h-1zM991 459h1v1h-1zM943 460h1v1h-1zM989 460h2v1h-2zM944 461h1v1h-1zM988 461h1v1h-1zM986 462h2v1h-2zM945 462h1v2h-1zM984 463h2v1h-2zM946 464h1v1h-1zM982 464h2v1h-2zM947 465h1v1h-1zM980 465h2v1h-2zM948 466h2v1h-2zM978 466h2v1h-2zM950 467h1v1h-1zM976 467h2v1h-2zM951 468h2v1h-2zM974 468h2v1h-2zM953 469h2v1h-2zM972 469h2v1h-2zM955 470h2v1h-2zM969 470h3v1h-3zM957 471h4v1h-4zM965 471h4v1h-4zM961 472h4v1h-4z" fill="#00FF00"/>
<!-- vertical line -->
<rect x="102" y="1" width="1" height="573" fill="#000"/>

<rect x="1319" y="8" width="2" height="1" fill="#000"/>
<text x="1324.5" y="11" textLength="27.3" lengthAdjust="spacingAndGlyphs" class="t">1.1035</text>
<rect x="1319" y="40" width="2" height="1" fill="#000"/>
<text x="1324.5" y="43" textLength="27.3" lengthAdjust="spacingAndGlyphs" class="t">1.1000</text>
<rect x="1319" y="76" width="2" height="1" fill="#000"/>
<text x="1324.5" y="79" textLength="27.3" lengthAdjust="spacingAndGlyphs" class="t">1.0960</text>
<rect x="1319" y="108" width="2" height="1" fill="#000"/>
<text x="1324.5" y="111" textLength="27.3" lengthAdjust="spacingAndGlyphs" class="t">1.0925</text>
<rect x="1319" y="140" width="2" height="1" fill="#000"/>
<text x="1324.5" y="143" textLength="27.3" lengthAdjust="spacingAndGlyphs" class="t">1.0890</text>
<rect x="1319" y="172" width="2" height="1" fill="#000"/>
<text x="1324.5" y="175" textLength="27.3" lengthAdjust="spacingAndGlyphs" class="t">1.0855</text>
<rect x="1319" y="204" width="2" height="1" fill="#000"/>
<text x="1324.5" y="207" textLength="27.3" lengthAdjust="spacingAndGlyphs" class="t">1.0820</text>
<rect x="1319" y="240" width="2" height="1" fill="#000"/>
<text x="1324.5" y="243" textLength="27.3" lengthAdjust="spacingAndGlyphs" class="t">1.0780</text>
<rect x="1319" y="272" width="2" height="1" fill="#000"/>
<text x="1324.5" y="275" textLength="27.3" lengthAdjust="spacingAndGlyphs" class="t">1.0745</text>
<rect x="1319" y="304" width="2" height="1" fill="#000"/>
<text x="1324.5" y="307" textLength="27.3" lengthAdjust="spacingAndGlyphs" class="t">1.0710</text>
<rect x="1319" y="336" width="2" height="1" fill="#000"/>
<text x="1324.5" y="339" textLength="27.3" lengthAdjust="spacingAndGlyphs" class="t">1.0675</text>
<rect x="1319" y="368" width="2" height="1" fill="#000"/>
<text x="1324.5" y="371" textLength="27.3" lengthAdjust="spacingAndGlyphs" class="t">1.0640</text>
<rect x="1319" y="404" width="2" height="1" fill="#000"/>
<text x="1324.5" y="407" textLength="27.3" lengthAdjust="spacingAndGlyphs" class="t">1.0600</text>
<rect x="1319" y="436" width="2" height="1" fill="#000"/>
<text x="1324.5" y="439" textLength="27.3" lengthAdjust="spacingAndGlyphs" class="t">1.0565</text>
<rect x="1319" y="468" width="2" height="1" fill="#000"/>
<text x="1324.5" y="471" textLength="27.3" lengthAdjust="spacingAndGlyphs" class="t">1.0530</text>
<rect x="1319" y="500" width="2" height="1" fill="#000"/>
<text x="1324.5" y="503" textLength="27.3" lengthAdjust="spacingAndGlyphs" class="t">1.0495</text>
<rect x="1319" y="532" width="2" height="1" fill="#000"/>
<text x="1324.5" y="535" textLength="27.3" lengthAdjust="spacingAndGlyphs" class="t">1.0460</text>
<rect x="1319" y="564" width="2" height="1" fill="#000"/>
<text x="1324.5" y="567" textLength="27.3" lengthAdjust="spacingAndGlyphs" class="t">1.0425</text>
<!-- price box -->
<rect x="1319" y="302" width="37" height="11" fill="#000"/>
<!-- date box -->
</g>
<text x="8.1" y="14" textLength="55" lengthAdjust="spacingAndGlyphs" class="t">AUDUSD,H4</text>
<text x="69.8" y="14" textLength="26.8" lengthAdjust="spacingAndGlyphs" class="t">1.0706</text>
<text x="100.7" y="14" textLength="26.8" lengthAdjust="spacingAndGlyphs" class="t">1.0711</text>
<text x="131.7" y="14" textLength="26.8" lengthAdjust="spacingAndGlyphs" class="t">1.0673</text>
<text x="162.7" y="14" textLength="26.8" lengthAdjust="spacingAndGlyphs" class="t">1.0706</text>
<text x="1304.3" y="27.7" textLength="12.4" lengthAdjust="spacingAndGlyphs" class="t" style="fill:#800080;stroke:none">0.0</text>
<text x="1200" y="308" textLength="37.4" lengthAdjust="spacingAndGlyphs" style="font-family:'Liberation Sans',sans-serif;font-size:14px;fill:#0C0C90">1.0715</text>
<text x="1324.5" y="311" textLength="27.3" lengthAdjust="spacingAndGlyphs" class="w">1.0706</text>
<text x="6.5" y="563.7" textLength="240.5" lengthAdjust="spacingAndGlyphs" class="t">MetaTrader, © 2001-2011 MetaQuotes Software Corp.</text>
<text x="3" y="582" textLength="49" lengthAdjust="spacingAndGlyphs" class="t">27 Apr 2011</text>
<text x="131" y="582" textLength="52" lengthAdjust="spacingAndGlyphs" class="t">2 May 12:00</text>
<text x="195" y="582" textLength="52" lengthAdjust="spacingAndGlyphs" class="t">3 May 20:00</text>
<text x="259" y="582" textLength="52" lengthAdjust="spacingAndGlyphs" class="t">5 May 04:00</text>
<text x="323" y="582" textLength="52" lengthAdjust="spacingAndGlyphs" class="t">6 May 12:00</text>
<text x="387" y="582" textLength="52" lengthAdjust="spacingAndGlyphs" class="t">9 May 20:00</text>
<text x="451" y="582" textLength="56.6" lengthAdjust="spacingAndGlyphs" class="t">11 May 04:00</text>
<text x="515" y="582" textLength="56.6" lengthAdjust="spacingAndGlyphs" class="t">12 May 12:00</text>
<text x="579" y="582" textLength="56.6" lengthAdjust="spacingAndGlyphs" class="t">13 May 20:00</text>
<text x="643" y="582" textLength="56.6" lengthAdjust="spacingAndGlyphs" class="t">17 May 04:00</text>
<text x="707" y="582" textLength="56.6" lengthAdjust="spacingAndGlyphs" class="t">18 May 12:00</text>
<text x="771" y="582" textLength="56.6" lengthAdjust="spacingAndGlyphs" class="t">19 May 20:00</text>
<text x="835" y="582" textLength="56.6" lengthAdjust="spacingAndGlyphs" class="t">23 May 04:00</text>
<text x="899" y="582" textLength="56.6" lengthAdjust="spacingAndGlyphs" class="t">24 May 12:00</text>
<text x="963" y="582" textLength="56.6" lengthAdjust="spacingAndGlyphs" class="t">25 May 20:00</text>
<text x="1027" y="582" textLength="56.6" lengthAdjust="spacingAndGlyphs" class="t">27 May 04:00</text>
<rect x="3" y="570" width="1" height="2" fill="#000"/>
<rect x="67" y="570" width="1" height="2" fill="#000"/>
<rect x="131" y="570" width="1" height="2" fill="#000"/>
<rect x="195" y="570" width="1" height="2" fill="#000"/>
<rect x="259" y="570" width="1" height="2" fill="#000"/>
<rect x="323" y="570" width="1" height="2" fill="#000"/>
<rect x="387" y="570" width="1" height="2" fill="#000"/>
<rect x="451" y="570" width="1" height="2" fill="#000"/>
<rect x="515" y="570" width="1" height="2" fill="#000"/>
<rect x="579" y="570" width="1" height="2" fill="#000"/>
<rect x="643" y="570" width="1" height="2" fill="#000"/>
<rect x="707" y="570" width="1" height="2" fill="#000"/>
<rect x="771" y="570" width="1" height="2" fill="#000"/>
<rect x="835" y="570" width="1" height="2" fill="#000"/>
<rect x="899" y="570" width="1" height="2" fill="#000"/>
<rect x="963" y="570" width="1" height="2" fill="#000"/>
<rect x="1027" y="570" width="1" height="2" fill="#000"/>
<rect x="62" y="573" width="80" height="11" fill="#000" shape-rendering="crispEdges"/>
<rect x="102" y="570" width="1" height="4" fill="#000" shape-rendering="crispEdges"/>
<text x="66.4" y="582" textLength="72.2" lengthAdjust="spacingAndGlyphs" class="w">2011.04.29 20:00</text>
</svg>
</body></html>
